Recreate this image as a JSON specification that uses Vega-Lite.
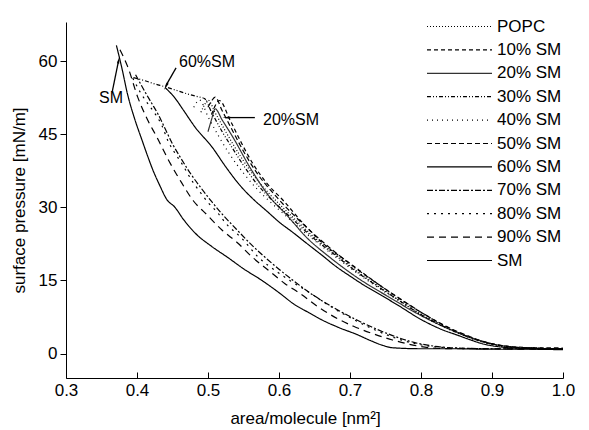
{
  "$schema": "https://vega.github.io/schema/vega-lite/v6.json",
  "width": 497,
  "height": 356,
  "autosize": {"type": "none"},
  "padding": {"left": 66, "top": 22, "right": 26, "bottom": 52},
  "background": "white",
  "config": {
    "view": {"stroke": null},
    "font": "Liberation Sans",
    "axis": {
      "grid": false,
      "domainColor": "black",
      "tickColor": "black",
      "labelColor": "black",
      "titleColor": "black",
      "labelFont": "Liberation Sans",
      "titleFont": "Liberation Sans",
      "labelFontSize": 17,
      "titleFontSize": 17,
      "titleFontWeight": "normal",
      "labelFlush": false
    },
    "legend": {
      "labelFont": "Liberation Sans",
      "labelFontSize": 17,
      "labelColor": "black"
    }
  },
  "layer": [
    {
      "data": {
        "values": [
          {"s":"POPC","a":0.49,"p":49.5},{"s":"POPC","a":0.495,"p":51},{"s":"POPC","a":0.5,"p":52},{"s":"POPC","a":0.51,"p":49.4},{"s":"POPC","a":0.52,"p":46.8},{"s":"POPC","a":0.535,"p":43},{"s":"POPC","a":0.55,"p":39.5},{"s":"POPC","a":0.57,"p":35.5},{"s":"POPC","a":0.59,"p":32.2},{"s":"POPC","a":0.61,"p":29.3},{"s":"POPC","a":0.63,"p":26.5},{"s":"POPC","a":0.65,"p":23.8},{"s":"POPC","a":0.68,"p":20.3},{"s":"POPC","a":0.71,"p":16.9},{"s":"POPC","a":0.74,"p":13.8},{"s":"POPC","a":0.77,"p":10.9},{"s":"POPC","a":0.8,"p":8.1},{"s":"POPC","a":0.83,"p":5.8},{"s":"POPC","a":0.86,"p":3.8},{"s":"POPC","a":0.89,"p":2.3},{"s":"POPC","a":0.92,"p":1.4},{"s":"POPC","a":0.95,"p":1.1},{"s":"POPC","a":1.0,"p":1.0},

          {"s":"10% SM","a":0.505,"p":49},{"s":"10% SM","a":0.51,"p":50.8},{"s":"10% SM","a":0.516,"p":51.9},{"s":"10% SM","a":0.531,"p":47.9},{"s":"10% SM","a":0.545,"p":43.8},{"s":"10% SM","a":0.563,"p":39},{"s":"10% SM","a":0.583,"p":34.9},{"s":"10% SM","a":0.606,"p":31.4},{"s":"10% SM","a":0.634,"p":26.7},{"s":"10% SM","a":0.662,"p":22.6},{"s":"10% SM","a":0.7,"p":18.5},{"s":"10% SM","a":0.746,"p":13.6},{"s":"10% SM","a":0.78,"p":10.3},{"s":"10% SM","a":0.81,"p":7.6},{"s":"10% SM","a":0.84,"p":5.2},{"s":"10% SM","a":0.87,"p":3.3},{"s":"10% SM","a":0.9,"p":2.0},{"s":"10% SM","a":0.93,"p":1.4},{"s":"10% SM","a":0.96,"p":1.2},{"s":"10% SM","a":1.0,"p":1.1},

          {"s":"20% SM","a":0.5,"p":45.5},{"s":"20% SM","a":0.505,"p":48},{"s":"20% SM","a":0.51,"p":50.2},{"s":"20% SM","a":0.52,"p":47.9},{"s":"20% SM","a":0.535,"p":44.4},{"s":"20% SM","a":0.559,"p":38.2},{"s":"20% SM","a":0.587,"p":32.1},{"s":"20% SM","a":0.611,"p":28.4},{"s":"20% SM","a":0.639,"p":23.8},{"s":"20% SM","a":0.672,"p":19.7},{"s":"20% SM","a":0.71,"p":15.6},{"s":"20% SM","a":0.756,"p":11.5},{"s":"20% SM","a":0.8,"p":7.8},{"s":"20% SM","a":0.84,"p":5},{"s":"20% SM","a":0.88,"p":2.8},{"s":"20% SM","a":0.92,"p":1.5},{"s":"20% SM","a":0.96,"p":1.1},{"s":"20% SM","a":1.0,"p":1.0},

          {"s":"30% SM","a":0.395,"p":56.6},{"s":"30% SM","a":0.41,"p":56},{"s":"30% SM","a":0.425,"p":55.3},{"s":"30% SM","a":0.44,"p":54.7},{"s":"30% SM","a":0.455,"p":54},{"s":"30% SM","a":0.47,"p":53.3},{"s":"30% SM","a":0.485,"p":52.7},{"s":"30% SM","a":0.495,"p":52.3},{"s":"30% SM","a":0.505,"p":49.5},{"s":"30% SM","a":0.52,"p":45.5},{"s":"30% SM","a":0.535,"p":42},{"s":"30% SM","a":0.55,"p":38.6},{"s":"30% SM","a":0.57,"p":34.6},{"s":"30% SM","a":0.59,"p":31.5},{"s":"30% SM","a":0.61,"p":28.8},{"s":"30% SM","a":0.63,"p":26.1},{"s":"30% SM","a":0.65,"p":23.5},{"s":"30% SM","a":0.68,"p":20.1},{"s":"30% SM","a":0.71,"p":16.7},{"s":"30% SM","a":0.74,"p":13.7},{"s":"30% SM","a":0.77,"p":10.8},{"s":"30% SM","a":0.8,"p":8.0},{"s":"30% SM","a":0.83,"p":5.7},{"s":"30% SM","a":0.86,"p":3.8},{"s":"30% SM","a":0.89,"p":2.3},{"s":"30% SM","a":0.92,"p":1.5},{"s":"30% SM","a":0.95,"p":1.1},{"s":"30% SM","a":1.0,"p":1.0},

          {"s":"40% SM","a":0.48,"p":50.5},{"s":"40% SM","a":0.488,"p":52},{"s":"40% SM","a":0.5,"p":48.6},{"s":"40% SM","a":0.515,"p":44.6},{"s":"40% SM","a":0.53,"p":41},{"s":"40% SM","a":0.55,"p":37},{"s":"40% SM","a":0.57,"p":33.6},{"s":"40% SM","a":0.59,"p":30.8},{"s":"40% SM","a":0.61,"p":28.2},{"s":"40% SM","a":0.63,"p":25.6},{"s":"40% SM","a":0.65,"p":23.2},{"s":"40% SM","a":0.68,"p":19.8},{"s":"40% SM","a":0.71,"p":16.5},{"s":"40% SM","a":0.74,"p":13.5},{"s":"40% SM","a":0.77,"p":10.7},{"s":"40% SM","a":0.8,"p":7.9},{"s":"40% SM","a":0.83,"p":5.6},{"s":"40% SM","a":0.86,"p":3.7},{"s":"40% SM","a":0.89,"p":2.2},{"s":"40% SM","a":0.92,"p":1.4},{"s":"40% SM","a":0.95,"p":1.1},{"s":"40% SM","a":1.0,"p":1.0},

          {"s":"50% SM","a":0.5,"p":50.5},{"s":"50% SM","a":0.505,"p":51.8},{"s":"50% SM","a":0.51,"p":52.6},{"s":"50% SM","a":0.52,"p":49.8},{"s":"50% SM","a":0.535,"p":45.6},{"s":"50% SM","a":0.55,"p":41.5},{"s":"50% SM","a":0.57,"p":36.8},{"s":"50% SM","a":0.59,"p":33.2},{"s":"50% SM","a":0.61,"p":30},{"s":"50% SM","a":0.63,"p":27.1},{"s":"50% SM","a":0.65,"p":24.4},{"s":"50% SM","a":0.68,"p":20.7},{"s":"50% SM","a":0.71,"p":17.3},{"s":"50% SM","a":0.74,"p":14.2},{"s":"50% SM","a":0.77,"p":11.3},{"s":"50% SM","a":0.8,"p":8.5},{"s":"50% SM","a":0.83,"p":6.0},{"s":"50% SM","a":0.86,"p":4.0},{"s":"50% SM","a":0.89,"p":2.4},{"s":"50% SM","a":0.92,"p":1.5},{"s":"50% SM","a":0.95,"p":1.2},{"s":"50% SM","a":1.0,"p":1.1},

          {"s":"60% SM","a":0.44,"p":54.5},{"s":"60% SM","a":0.4535,"p":52.4},{"s":"60% SM","a":0.465,"p":50},{"s":"60% SM","a":0.482,"p":46.4},{"s":"60% SM","a":0.506,"p":42.3},{"s":"60% SM","a":0.525,"p":38.3},{"s":"60% SM","a":0.545,"p":34.5},{"s":"60% SM","a":0.565,"p":31.5},{"s":"60% SM","a":0.583,"p":29.2},{"s":"60% SM","a":0.6,"p":27},{"s":"60% SM","a":0.62,"p":24.8},{"s":"60% SM","a":0.64,"p":22.5},{"s":"60% SM","a":0.662,"p":20},{"s":"60% SM","a":0.68,"p":17.9},{"s":"60% SM","a":0.7,"p":15.9},{"s":"60% SM","a":0.72,"p":14},{"s":"60% SM","a":0.746,"p":11.8},{"s":"60% SM","a":0.77,"p":9.7},{"s":"60% SM","a":0.8,"p":7.0},{"s":"60% SM","a":0.83,"p":4.9},{"s":"60% SM","a":0.851,"p":3.8},{"s":"60% SM","a":0.87,"p":2.8},{"s":"60% SM","a":0.887,"p":2.0},{"s":"60% SM","a":0.91,"p":1.4},{"s":"60% SM","a":0.94,"p":1.1},{"s":"60% SM","a":1.0,"p":1.0},

          {"s":"70% SM","a":0.398,"p":57.2},{"s":"70% SM","a":0.41,"p":54},{"s":"70% SM","a":0.42,"p":51.5},{"s":"70% SM","a":0.43,"p":49},{"s":"70% SM","a":0.44,"p":46},{"s":"70% SM","a":0.45,"p":43},{"s":"70% SM","a":0.46,"p":40.5},{"s":"70% SM","a":0.475,"p":37},{"s":"70% SM","a":0.49,"p":34},{"s":"70% SM","a":0.505,"p":31.2},{"s":"70% SM","a":0.52,"p":28.6},{"s":"70% SM","a":0.54,"p":25.5},{"s":"70% SM","a":0.56,"p":22.5},{"s":"70% SM","a":0.58,"p":19.8},{"s":"70% SM","a":0.6,"p":17.3},{"s":"70% SM","a":0.62,"p":15},{"s":"70% SM","a":0.645,"p":12.3},{"s":"70% SM","a":0.67,"p":10},{"s":"70% SM","a":0.7,"p":7.6},{"s":"70% SM","a":0.73,"p":5.5},{"s":"70% SM","a":0.76,"p":3.7},{"s":"70% SM","a":0.79,"p":2.3},{"s":"70% SM","a":0.82,"p":1.5},{"s":"70% SM","a":0.86,"p":1.1},{"s":"70% SM","a":0.9,"p":1.0},{"s":"70% SM","a":0.95,"p":1.0},{"s":"70% SM","a":1.0,"p":1.0},

          {"s":"80% SM","a":0.394,"p":56.5},{"s":"80% SM","a":0.405,"p":53.5},{"s":"80% SM","a":0.415,"p":51.3},{"s":"80% SM","a":0.425,"p":49.3},{"s":"80% SM","a":0.435,"p":46.8},{"s":"80% SM","a":0.444,"p":43.5},{"s":"80% SM","a":0.4535,"p":41.1},{"s":"80% SM","a":0.463,"p":39},{"s":"80% SM","a":0.479,"p":35.1},{"s":"80% SM","a":0.489,"p":33.1},{"s":"80% SM","a":0.5,"p":31},{"s":"80% SM","a":0.513,"p":29},{"s":"80% SM","a":0.524,"p":26.9},{"s":"80% SM","a":0.548,"p":23.6},{"s":"80% SM","a":0.57,"p":19.9},{"s":"80% SM","a":0.599,"p":16.6},{"s":"80% SM","a":0.613,"p":15.2},{"s":"80% SM","a":0.64,"p":12.8},{"s":"80% SM","a":0.67,"p":9.9},{"s":"80% SM","a":0.7,"p":7.4},{"s":"80% SM","a":0.73,"p":5.2},{"s":"80% SM","a":0.76,"p":3.4},{"s":"80% SM","a":0.79,"p":2.1},{"s":"80% SM","a":0.82,"p":1.4},{"s":"80% SM","a":0.86,"p":1.1},{"s":"80% SM","a":0.9,"p":1.0},{"s":"80% SM","a":0.95,"p":1.0},{"s":"80% SM","a":1.0,"p":1.0},

          {"s":"90% SM","a":0.376,"p":62.3},{"s":"90% SM","a":0.387,"p":58.8},{"s":"90% SM","a":0.401,"p":52.6},{"s":"90% SM","a":0.415,"p":47.9},{"s":"90% SM","a":0.428,"p":44.4},{"s":"90% SM","a":0.445,"p":39.5},{"s":"90% SM","a":0.463,"p":35},{"s":"90% SM","a":0.479,"p":31.4},{"s":"90% SM","a":0.499,"p":28.4},{"s":"90% SM","a":0.52,"p":25.3},{"s":"90% SM","a":0.541,"p":22.8},{"s":"90% SM","a":0.563,"p":19.7},{"s":"90% SM","a":0.585,"p":17.1},{"s":"90% SM","a":0.608,"p":14.4},{"s":"90% SM","a":0.63,"p":12.3},{"s":"90% SM","a":0.655,"p":9.6},{"s":"90% SM","a":0.682,"p":7.2},{"s":"90% SM","a":0.705,"p":5.6},{"s":"90% SM","a":0.732,"p":4.1},{"s":"90% SM","a":0.76,"p":2.8},{"s":"90% SM","a":0.794,"p":1.6},{"s":"90% SM","a":0.82,"p":1.1},{"s":"90% SM","a":0.85,"p":1.0},{"s":"90% SM","a":0.9,"p":1.0},{"s":"90% SM","a":0.95,"p":0.9},{"s":"90% SM","a":1.0,"p":0.9},

          {"s":"SM","a":0.371,"p":63.2},{"s":"SM","a":0.378,"p":59},{"s":"SM","a":0.387,"p":53},{"s":"SM","a":0.397,"p":48},{"s":"SM","a":0.407,"p":43.8},{"s":"SM","a":0.415,"p":40.5},{"s":"SM","a":0.4225,"p":37.6},{"s":"SM","a":0.432,"p":34.5},{"s":"SM","a":0.442,"p":31.6},{"s":"SM","a":0.4535,"p":30},{"s":"SM","a":0.465,"p":27.6},{"s":"SM","a":0.482,"p":24.7},{"s":"SM","a":0.505,"p":22},{"s":"SM","a":0.528,"p":19.7},{"s":"SM","a":0.55,"p":17.4},{"s":"SM","a":0.576,"p":15},{"s":"SM","a":0.6,"p":12.5},{"s":"SM","a":0.6225,"p":10},{"s":"SM","a":0.642,"p":8.4},{"s":"SM","a":0.662,"p":6.8},{"s":"SM","a":0.685,"p":5.3},{"s":"SM","a":0.71,"p":3.9},{"s":"SM","a":0.73,"p":2.6},{"s":"SM","a":0.746,"p":1.7},{"s":"SM","a":0.76,"p":1.2},{"s":"SM","a":0.8,"p":1.0},{"s":"SM","a":0.85,"p":1.0},{"s":"SM","a":0.9,"p":0.9},{"s":"SM","a":0.95,"p":0.9},{"s":"SM","a":1.0,"p":0.8}
        ]
      },
      "mark": {"type": "line", "interpolate": "monotone", "strokeCap": "butt"},
      "encoding": {
        "x": {
          "field": "a", "type": "quantitative",
          "scale": {"domain": [0.3, 1.0], "nice": false, "zero": false},
          "axis": {"values": [0.3,0.4,0.5,0.6,0.7,0.8,0.9,1.0], "format": ".1f", "tickSize": -6, "labelPadding": 10, "title": "area/molecule [nm²]", "titlePadding": 12, "titleX": 239}
        },
        "y": {
          "field": "p", "type": "quantitative",
          "scale": {"domain": [-5, 68], "nice": false, "zero": false},
          "axis": {"values": [0,15,30,45,60], "tickSize": 6, "labelPadding": 3, "title": "surface pressure [mN/m]", "titlePadding": 10}
        },
        "detail": {"field": "s"},
        "strokeDash": {
          "field": "s", "type": "nominal",
          "scale": {
            "domain": ["POPC","10% SM","20% SM","30% SM","40% SM","50% SM","60% SM","70% SM","80% SM","90% SM","SM"],
            "range": [[1,2],[4,3],[1,0],[4,2,1,2,1,2],[1,4],[5,3],[1,0],[6,2,2,2],[2,5],[7,5],[1,0]]
          },
          "legend": {
            "title": null, "orient": "none", "legendX": 385, "legendY": -4,
            "symbolType": "M-5,0H5", "symbolSize": 169, "symbolStrokeColor": "black",
            "labelOffset": 29, "rowPadding": 5.4, "padding": 0
          }
        },
        "strokeWidth": {
          "field": "s", "type": "nominal",
          "scale": {
            "domain": ["POPC","10% SM","20% SM","30% SM","40% SM","50% SM","60% SM","70% SM","80% SM","90% SM","SM"],
            "range": [1.2,1.2,1,1.2,1.2,1.3,1.8,2.2,2.4,2.2,2.2]
          },
          "legend": {"title": null}
        },
        "color": {
          "field": "s", "type": "nominal",
          "scale": {
            "domain": ["POPC","10% SM","20% SM","30% SM","40% SM","50% SM","60% SM","70% SM","80% SM","90% SM","SM"],
            "range": ["black","black","#333333","black","black","black","black","black","black","black","black"]
          },
          "legend": {"title": null}
        }
      }
    },
    {
      "data": {
        "values": [
          {"a": 0.365, "p": 53.6, "a2": 0.3742, "p2": 60.2},
          {"a": 0.455, "p": 58.6, "a2": 0.4405, "p2": 54.9},
          {"a": 0.566, "p": 48.4, "a2": 0.527, "p2": 48.4}
        ]
      },
      "mark": {"type": "rule", "color": "black", "strokeWidth": 1.3},
      "encoding": {
        "x": {"field": "a", "type": "quantitative"},
        "y": {"field": "p", "type": "quantitative"},
        "x2": {"field": "a2"},
        "y2": {"field": "p2"}
      }
    },
    {
      "data": {
        "values": [
          {"a": 0.3740, "p": 60.0, "ang": 11},
          {"a": 0.4415, "p": 55.0, "ang": 209},
          {"a": 0.5275, "p": 48.4, "ang": 270}
        ]
      },
      "mark": {"type": "point", "shape": "wedge", "filled": true, "color": "black", "size": 80, "opacity": 1},
      "encoding": {
        "x": {"field": "a", "type": "quantitative"},
        "y": {"field": "p", "type": "quantitative"},
        "angle": {"field": "ang", "type": "quantitative", "scale": null}
      }
    },
    {
      "data": {
        "values": [
          {"t": "SM", "a": 0.3634, "p": 52.4},
          {"t": "60%SM", "a": 0.4986, "p": 59.8},
          {"t": "20%SM", "a": 0.617, "p": 47.9}
        ]
      },
      "mark": {"type": "text", "font": "Liberation Sans", "fontSize": 16, "color": "black", "align": "center", "baseline": "middle"},
      "encoding": {
        "x": {"field": "a", "type": "quantitative"},
        "y": {"field": "p", "type": "quantitative"},
        "text": {"field": "t"}
      }
    }
  ]
}
